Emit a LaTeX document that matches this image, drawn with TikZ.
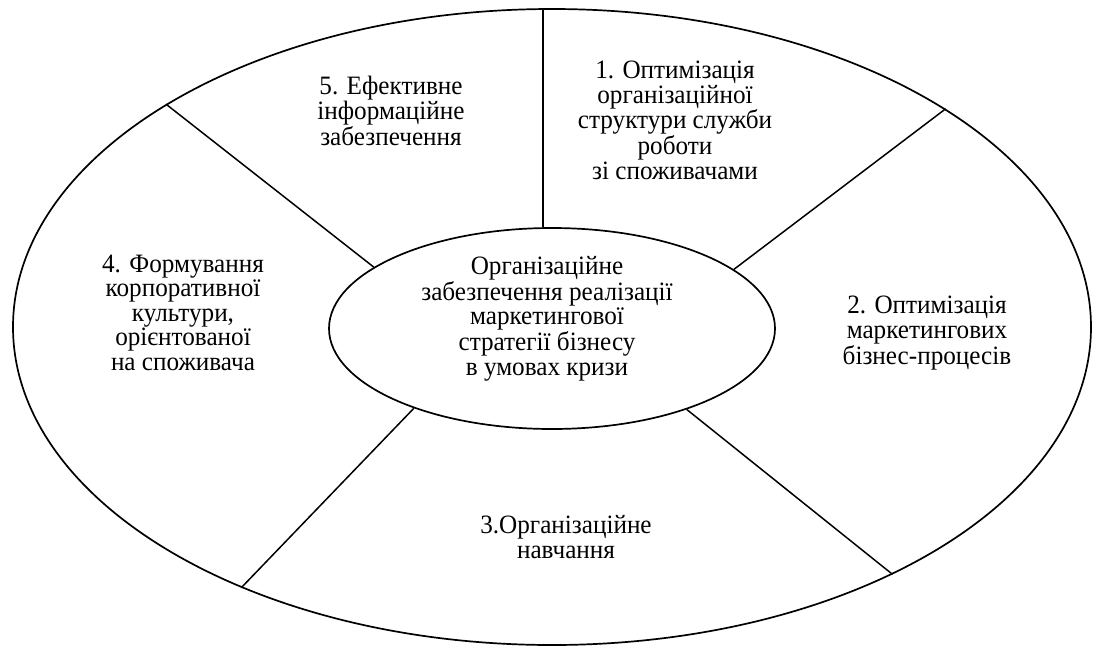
\documentclass[tikz,border=0pt]{standalone}
\usepackage{fontspec}
\setmainfont{Liberation Serif}[FakeStretch=0.95]
\usetikzlibrary{shapes.geometric}
\begin{document}
\begin{tikzpicture}[x=1pt,y=-1pt,
  ring/.style={draw, line width=1.7pt, ellipse, inner sep=0pt},
  lbl/.style={align=center, font=\fontsize{26.5}{24.5}\selectfont, inner sep=0pt, anchor=base},
  divider/.style={line width=1.5pt}]
\useasboundingbox (0,0) rectangle (1098,646);
\node[ring, minimum width=1078pt, minimum height=636pt] (outer) at (552,327) {};
\node[ring, minimum width=446pt, minimum height=201pt] (inner) at (552,328.5) {};
\draw[divider] (inner.95.7) -- (inner.95.7 |- outer.north);
\draw[divider] (inner.161.4) -- (outer.150.86);
\draw[divider] (inner.18.58) -- (outer.29.46);
\draw[divider] (inner.210.1) -- (outer.220.5);
\draw[divider] (inner.329.7) -- (outer.324.96);
\node[lbl] (t1) at (675,179) {1. Оптимізація\\організаційної\\структури служби\\роботи\\зі споживачами};
\node[lbl] (t0) at (547,375) {Організаційне\\забезпечення реалізації\\маркетингової\\стратегії бізнесу\\в умовах кризи};
\node[lbl] (t2) at (927,364) {2. Оптимізація\\маркетингових\\бізнес-процесів};
\node[lbl] (t3) at (566,558) {3.Організаційне\\навчання};
\node[lbl] (t4) at (183,370) {4. Формування\\корпоративної\\культури,\\орієнтованої\\на споживача};
\node[lbl] (t5) at (391,145) {5. Ефективне\\інформаційне\\забезпечення};
\end{tikzpicture}
\end{document}
